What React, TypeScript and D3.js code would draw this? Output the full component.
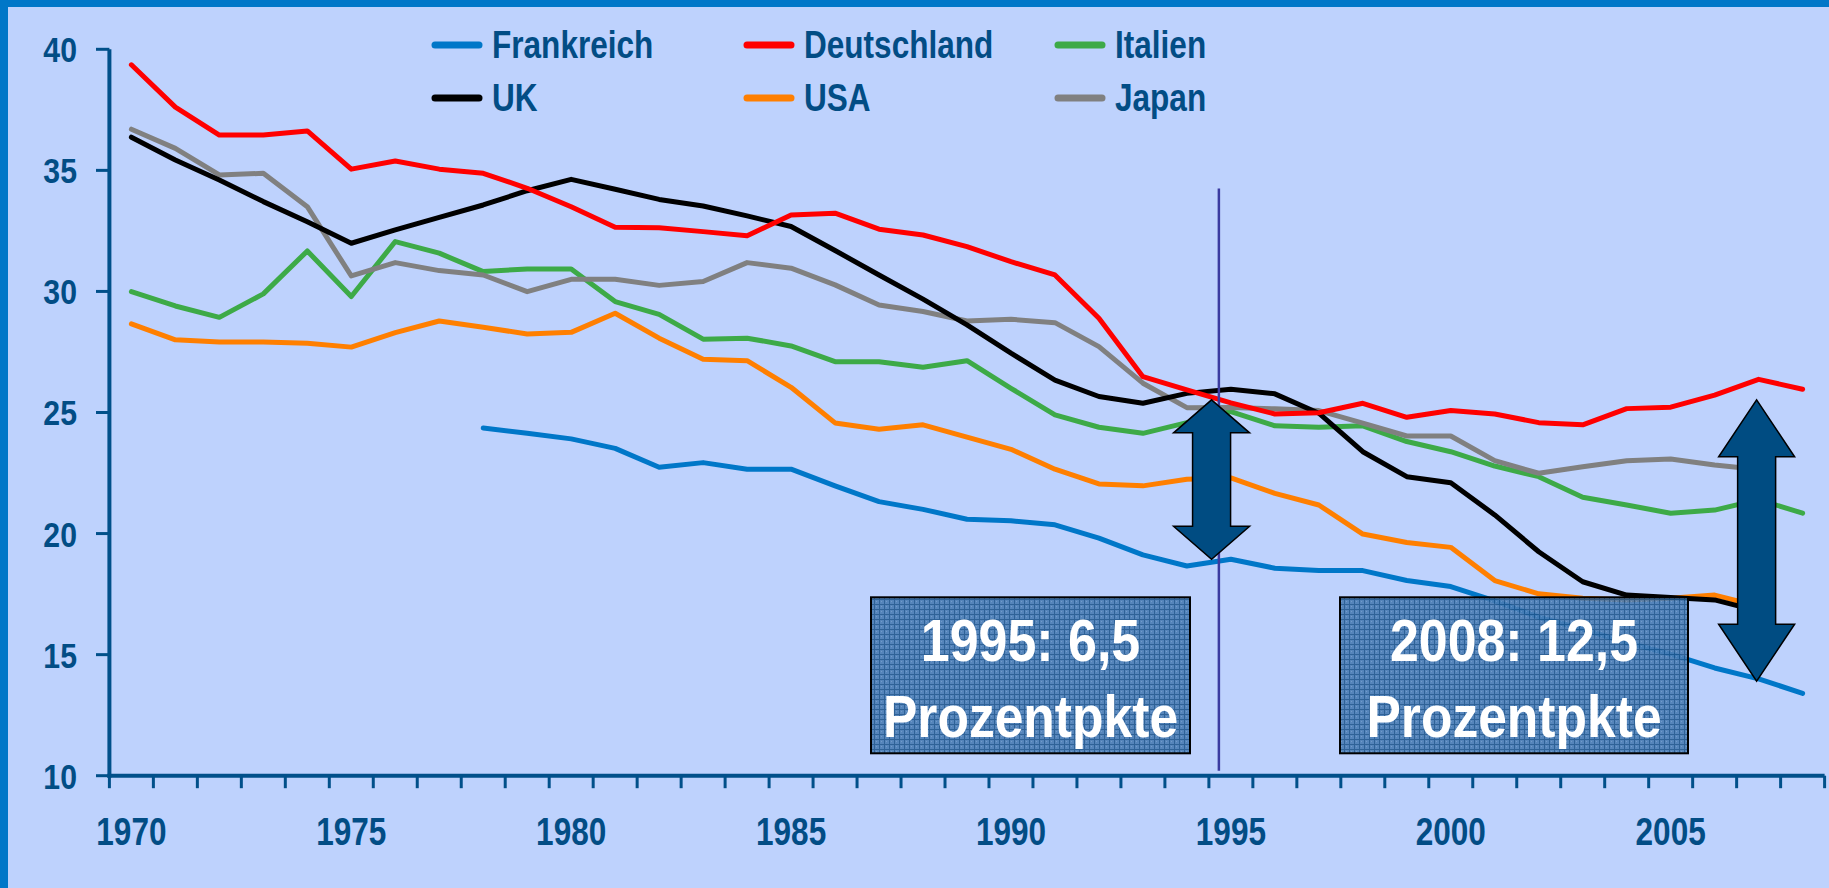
import React from "react";
import * as d3 from "d3";

const years: number[] = d3.range(1970, 2009);

const frankreich: (number | null)[] = [
  null, null, null, null, null, null, null, null,
  24.36, 24.14, 23.91, 23.52, 22.74, 22.93, 22.66, 22.66, 21.97, 21.32, 21.0, 20.59,
  20.53, 20.36, 19.81, 19.12, 18.66, 18.94, 18.57, 18.47, 18.47, 18.06,
  17.81, 17.22, 16.55, 16.05, 15.5, 15.02, 14.45, 14.0, 13.4,
];
const deutschland: (number | null)[] = [
  39.36, 37.61, 36.46, 36.46, 36.63, 35.05, 35.39, 35.05, 34.88, 34.26,
  33.5, 32.65, 32.63, 32.47, 32.3, 33.16, 33.23, 32.57, 32.33, 31.85,
  31.23, 30.68, 28.89, 26.48, 25.93, 25.4, 24.94, 24.99, 25.38, 24.8,
  25.08, 24.94, 24.58, 24.49, 25.16, 25.22, 25.72, 26.37, 25.96,
];
const italien: (number | null)[] = [
  29.99, 29.4, 28.93, 29.9, 31.67, 29.79, 32.06, 31.58, 30.82, 30.93,
  30.93, 29.58, 29.05, 28.03, 28.07, 27.75, 27.1, 27.1, 26.87, 27.14,
  26.0, 24.9, 24.39, 24.14, 24.58, 25.04, 24.45, 24.39, 24.45, 23.8,
  23.38, 22.79, 22.35, 21.5, 21.18, 20.84, 20.97, 21.4, 20.84,
];
const uk: (number | null)[] = [
  36.37, 35.43, 34.6, 33.71, 32.88, 31.99, 32.54, 33.06, 33.57, 34.16,
  34.63, 34.22, 33.8, 33.53, 33.12, 32.68, 31.69, 30.68, 29.68, 28.62,
  27.45, 26.34, 25.66, 25.38, 25.79, 25.96, 25.77, 24.97, 23.38, 22.35,
  22.1, 20.77, 19.25, 18.01, 17.46, 17.36, 17.26, 16.8, null,
];
const usa: (number | null)[] = [
  28.66, 28.0, 27.91, 27.91, 27.86, 27.7, 28.3, 28.78, 28.52, 28.24,
  28.31, 29.1, 28.07, 27.2, 27.14, 26.04, 24.57, 24.31, 24.49, 23.98,
  23.48, 22.66, 22.05, 21.97, 22.24, 22.3, 21.66, 21.18, 19.98, 19.63,
  19.43, 18.06, 17.51, 17.33, 17.26, 17.33, 17.46, 17.0, null,
];
const japan: (number | null)[] = [
  36.7, 35.91, 34.81, 34.88, 33.5, 30.64, 31.19, 30.86, 30.68, 29.99,
  30.5, 30.5, 30.25, 30.41, 31.19, 30.96, 30.27, 29.44, 29.17, 28.78,
  28.85, 28.71, 27.72, 26.21, 25.2, 25.21, 25.15, 25.08, 24.56, 24.03,
  24.03, 23.01, 22.49, 22.76, 23.01, 23.08, 22.83, 22.65, null,
];

const seriesNames = ["Frankreich", "Deutschland", "Italien", "UK", "USA", "Japan"];
const seriesColors = ["#0077C8", "#FF0000", "#3DAA47", "#000000", "#FF7F00", "#808080"];
const seriesValues = [frankreich, deutschland, italien, uk, usa, japan];
// draw order (back to front)
const drawOrder = [0, 4, 2, 5, 3, 1];

const yTicks = [10, 15, 20, 25, 30, 35, 40];
const xLabelYears = [1970, 1975, 1980, 1985, 1990, 1995, 2000, 2005];

const box1Lines = ["1995: 6,5", "Prozentpkte"];
const box2Lines = ["2008: 12,5", "Prozentpkte"];

const W = 1829;
const H = 888;
const BG = "#BED2FD";
const FRAME = "#0077C8";
const AXIS = "#01508A";
const TEXT = "#024D85";
const FONT = "'Liberation Sans', Arial, sans-serif";

type NTextProps = {
  x: number;
  y: number;
  size: number;
  sx: number;
  anchor?: "start" | "middle" | "end";
  fill: string;
  dy?: string;
  children: React.ReactNode;
};

function NText({ x, y, size, sx, anchor = "start", fill, dy, children }: NTextProps) {
  return (
    <g transform={`translate(${x},${y}) scale(${sx},1)`}>
      <text x={0} y={0} dy={dy} textAnchor={anchor} fontSize={size} fontWeight="bold" fill={fill}>
        {children}
      </text>
    </g>
  );
}

export default function App() {
  const x = d3.scaleBand<number>().domain(years).range([109.4, 1824.6]).paddingInner(0).paddingOuter(0);
  const bw = x.bandwidth();
  const xc = (yr: number) => (x(yr) as number) + bw / 2;
  const y = d3.scaleLinear().domain([10, 40]).range([775.7, 49.3]);

  const line = d3
    .line<number | null>()
    .defined((d) => d != null)
    .x((_, i) => xc(years[i]))
    .y((d) => y(d as number));

  const tickXs = years.map((yr) => x(yr) as number).concat([x.range()[1]]);

  const arrowPath = (cx: number, yTop: number, yBot: number, headLen: number, headW = 76, shaftW = 38) => {
    const hw = headW / 2;
    const sw = shaftW / 2;
    return (
      [
        [cx, yTop],
        [cx + hw, yTop + headLen],
        [cx + sw, yTop + headLen],
        [cx + sw, yBot - headLen],
        [cx + hw, yBot - headLen],
        [cx, yBot],
        [cx - hw, yBot - headLen],
        [cx - sw, yBot - headLen],
        [cx - sw, yTop + headLen],
        [cx - hw, yTop + headLen],
      ]
        .map((p, i) => (i === 0 ? "M" : "L") + p[0] + "," + p[1])
        .join("") + "Z"
    );
  };

  const i1995 = years.indexOf(1995);
  const a1 = arrowPath(xc(1995) - 19.3, y(deutschland[i1995] as number) - 3, y(frankreich[i1995] as number), 33);
  const a2 = arrowPath(xc(2007) - 2, y(25.4) - 3, y(13.9), 57);

  const vlineX = xc(1995) - 12;

  const legendCols = [432, 744, 1055];
  const legendRows = [45, 98];

  const boxes = [
    { x0: 871, x1: 1190, lines: box1Lines },
    { x0: 1340, x1: 1688, lines: box2Lines },
  ];

  return (
    <svg
      width={W}
      height={H}
      style={{ position: "absolute", left: 0, top: 0, display: "block" }}
      fontFamily={FONT}
    >
      <defs>
        <pattern id="grid" width="5" height="5" patternUnits="userSpaceOnUse">
          <rect width="5" height="5" fill="#4A7DB4" />
          <rect x="0" y="4" width="5" height="1" fill="#1F568C" />
          <rect x="4" y="0" width="1" height="5" fill="#1F568C" />
          <rect x="1" y="1" width="1" height="1" fill="#6A96C6" />
        </pattern>
      </defs>
      <rect width={W} height={H} fill={BG} />
      <rect x={0} y={0} width={W} height={7} fill={FRAME} />
      <rect x={0} y={0} width={8} height={H} fill={FRAME} />

      {/* axes */}
      <line x1={109.4} x2={109.4} y1={y(40)} y2={y(10) + 2} stroke={AXIS} strokeWidth={4} />
      <line x1={107.4} x2={x.range()[1]} y1={y(10)} y2={y(10)} stroke={AXIS} strokeWidth={4} />
      {yTicks.map((t) => (
        <g key={"yt" + t}>
          <line x1={96} x2={109.4} y1={y(t)} y2={y(t)} stroke={AXIS} strokeWidth={3} />
          <NText x={77} y={y(t)} dy="0.36em" anchor="end" size={36} sx={0.84} fill={TEXT}>
            {t}
          </NText>
        </g>
      ))}
      {tickXs.map((tx, i) => (
        <line key={"xt" + i} x1={tx} x2={tx} y1={y(10)} y2={y(10) + 12.5} stroke={AXIS} strokeWidth={3} />
      ))}
      {xLabelYears.map((yr) => (
        <NText key={"xl" + yr} x={xc(yr)} y={845} anchor="middle" size={38.5} sx={0.82} fill={TEXT}>
          {yr}
        </NText>
      ))}

      {/* series */}
      {drawOrder.map((si) => (
        <path
          key={"s" + si}
          d={line(seriesValues[si]) || ""}
          fill="none"
          stroke={seriesColors[si]}
          strokeWidth={5}
          strokeLinejoin="round"
          strokeLinecap="round"
        />
      ))}

      {/* legend */}
      {seriesNames.map((name, i) => {
        const col = i % 3;
        const row = Math.floor(i / 3);
        const lx = legendCols[col];
        const ly = legendRows[row];
        return (
          <g key={"lg" + i}>
            <line
              x1={lx + 3}
              x2={lx + 47}
              y1={ly}
              y2={ly}
              stroke={seriesColors[i]}
              strokeWidth={7}
              strokeLinecap="round"
            />
            <NText x={lx + 60} y={ly + 13} size={38.5} sx={0.82} fill={TEXT}>
              {name}
            </NText>
          </g>
        );
      })}

      {/* vertical marker */}
      <line x1={vlineX} x2={vlineX} y1={y(34.25)} y2={y(10.2)} stroke="#3B3BA0" strokeWidth={2.5} />

      {/* arrows */}
      <path d={a1} fill="#004C82" stroke="#000" strokeWidth={1.5} strokeLinejoin="miter" />
      <path d={a2} fill="#004C82" stroke="#000" strokeWidth={1.5} strokeLinejoin="miter" />

      {/* boxes */}
      {boxes.map((b, i) => (
        <g key={"bx" + i}>
          <rect
            x={b.x0}
            y={597.3}
            width={b.x1 - b.x0}
            height={156}
            fill="url(#grid)"
            fillOpacity={0.9}
            stroke="#000"
            strokeWidth={2}
          />
          <NText x={(b.x0 + b.x1) / 2} y={660.5} anchor="middle" size={59} sx={0.88} fill="#fff">
            {b.lines[0]}
          </NText>
          <NText x={(b.x0 + b.x1) / 2} y={736.7} anchor="middle" size={60} sx={0.86} fill="#fff">
            {b.lines[1]}
          </NText>
        </g>
      ))}
    </svg>
  );
}
